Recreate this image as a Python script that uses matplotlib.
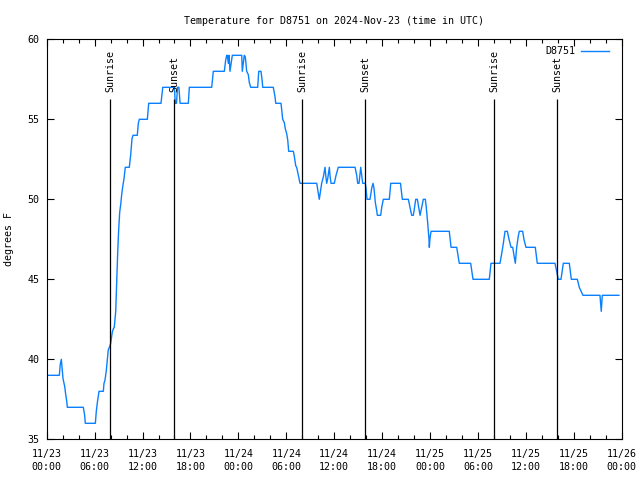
import matplotlib
matplotlib.use('Agg')
import matplotlib.pyplot as plt
from matplotlib.ticker import MultipleLocator

# hours since 2024-11-23 00:00 UTC
hours = [
    0.00, 1.58, 1.70, 1.83, 1.92, 2.04, 2.25, 2.38, 2.50, 2.58,
    4.58, 4.75, 4.83, 6.09, 6.20, 6.34, 6.55, 7.09, 7.17, 7.30,
    7.46, 7.59, 7.71, 7.89, 8.01, 8.21, 8.34, 8.46, 8.64, 8.77,
    8.89, 9.02, 9.14, 9.27, 9.39, 9.52, 9.68, 9.84, 10.34, 10.52,
    10.68, 10.81, 11.34, 11.47, 11.60, 12.60, 12.77, 14.31, 14.53, 15.98,
    16.10, 16.25, 16.38, 16.55, 16.70, 17.73, 17.86, 20.66, 20.86, 22.24,
    22.33, 22.41, 22.54, 22.61, 22.74, 22.83, 22.95, 23.04, 23.24, 24.42,
    24.49, 24.62, 24.74, 24.87, 25.04, 25.24, 25.37, 25.54, 26.42, 26.55,
    26.83, 26.96, 27.05, 28.37, 28.59, 28.68, 29.34, 29.46, 29.55, 29.75,
    29.88, 30.05, 30.18, 30.30, 30.88, 31.00, 31.18, 31.30, 31.43, 31.56,
    31.72, 33.81, 34.13, 34.43, 34.64, 34.85, 34.94, 35.06, 35.19, 35.39,
    35.47, 35.60, 36.01, 36.23, 36.51, 38.61, 38.82, 38.94, 39.11, 39.32,
    39.44, 39.57, 39.90, 39.98, 40.11, 40.48, 40.70, 40.86, 40.98, 41.15,
    41.32, 41.40, 41.82, 41.95, 42.15, 42.90, 43.08, 44.30, 44.53, 45.28,
    45.49, 45.70, 45.91, 46.21, 46.41, 46.58, 46.75, 46.96, 47.16, 47.41,
    47.53, 47.71, 47.87, 47.91, 48.00, 48.13, 50.41, 50.63, 51.34, 51.50,
    51.66, 53.09, 53.38, 55.42, 55.63, 56.76, 56.97, 57.18, 57.39, 57.68,
    57.89, 58.14, 58.35, 58.51, 58.68, 58.85, 59.05, 59.18, 59.60, 59.76,
    60.01, 61.18, 61.43, 63.65, 63.86, 64.06, 64.40, 64.69, 65.44, 65.69,
    66.44, 66.69, 67.15, 69.28, 69.44, 69.57, 71.65,
]
temps = [
    39, 39, 39.7, 40, 39.5, 38.8, 38.3, 37.8, 37.4, 37,
    37, 36.5, 36, 36, 36.7, 37.3, 38, 38, 38.5, 38.7,
    39.3, 40, 40.6, 40.8, 41, 41.7, 41.9, 42, 43, 45,
    46.7, 48.2, 49.2, 49.7, 50.3, 50.8, 51.3, 52, 52, 52.8,
    53.8, 54, 54, 54.75, 55, 55, 56, 56, 57, 57,
    56, 56, 57, 57, 56, 56, 57, 57, 58, 58,
    58.4, 58.7, 59, 59, 58.5, 59, 58, 58.3, 59, 59,
    58, 58.5, 59, 58.9, 58, 57.8, 57.3, 57, 57, 58,
    58, 57.5, 57, 57, 56.4, 56, 56, 55.4, 55, 54.8,
    54.4, 54.1, 53.7, 53, 53, 52.7, 52.1, 52, 51.7, 51.4,
    51, 51, 50, 51, 51.4, 52, 51.5, 51, 51.3, 52,
    51.5, 51, 51, 51.5, 52, 52, 51.5, 51, 51, 52,
    51.5, 51, 51, 50.7, 50, 50, 50.7, 51, 50.7, 49.8,
    49.3, 49, 49, 49.5, 50, 50, 51, 51, 50, 50,
    49.5, 49, 49, 50, 50, 49.5, 49, 49.5, 50, 50,
    49.5, 48.5, 47.5, 47, 47.6, 48, 48, 47, 47, 46.5,
    46, 46, 45, 45, 46, 46, 46.6, 47.25, 48, 48,
    47.5, 47, 47, 46.5, 46, 47, 47.7, 48, 48, 47.5,
    47, 47, 46, 46, 45.5, 45, 45, 46, 46, 45,
    45, 44.5, 44, 44, 43, 44, 44,
]

sunrise = [7.96, 32.0, 56.05]
sunset = [16.0, 39.9, 63.94]

tick_hours = list(range(0, 73, 6))
tick_labels = ['11/23\n00:00', '11/23\n06:00', '11/23\n12:00', '11/23\n18:00',
               '11/24\n00:00', '11/24\n06:00', '11/24\n12:00', '11/24\n18:00',
               '11/25\n00:00', '11/25\n06:00', '11/25\n12:00', '11/25\n18:00',
               '11/26\n00:00']

plt.rcParams['font.family'] = 'DejaVu Sans Mono'
plt.rcParams['font.size'] = 7.2

fig = plt.figure(figsize=(6.4, 4.8), dpi=100)
ax = fig.add_axes([0.073, 0.0848, 0.8984, 0.8333])

ax.plot(hours, temps, color='#0a80ff', lw=1.0, label='D8751')

# sun lines stop under their labels
line_top = 56.27
label_y = 56.7
for h in sunrise:
    ax.vlines(h, 35, line_top, color='black', lw=0.9)
    ax.text(h, label_y, 'Sunrise', rotation=90, ha='center', va='bottom')
for h in sunset:
    ax.vlines(h, 35, line_top, color='black', lw=0.9)
    ax.text(h, label_y, 'Sunset', rotation=90, ha='center', va='bottom')

ax.set_xlim(0, 72)
ax.set_ylim(35, 60)
ax.set_xticks(tick_hours)
ax.set_xticklabels(tick_labels, linespacing=1.35)
ax.xaxis.set_minor_locator(MultipleLocator(2))
ax.set_yticks(range(35, 61, 5))
ax.tick_params(which='both', direction='in', top=True, right=True)
ax.tick_params(axis='x', pad=7)
ax.tick_params(axis='y', pad=5)
ax.tick_params(which='major', length=5, width=0.8)
ax.tick_params(which='minor', length=3, width=0.8)
for s in ax.spines.values():
    s.set_linewidth(0.8)

ax.set_ylabel('degrees F', labelpad=10)
ax.set_title('Temperature for D8751 on 2024-Nov-23 (time in UTC)',
             fontsize=7.2, pad=11)

ax.legend(loc='upper right', frameon=False, markerfirst=False,
          handlelength=2.8, handletextpad=0.6, borderaxespad=0.3,
          bbox_to_anchor=(0.99, 1.0))

fig.savefig('out.png', dpi=100)
